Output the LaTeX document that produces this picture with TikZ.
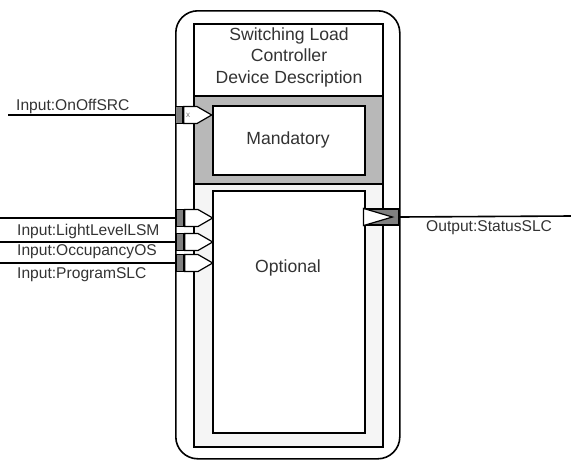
\documentclass[tikz,border=0pt]{standalone}
\usepackage{fontspec}
\setmainfont{Liberation Sans}
\usetikzlibrary{shapes,positioning}

\begin{document}
\begin{tikzpicture}[
        x=1pt, y=-1pt,
        frame/.style={
            draw,
            line width=1.6pt,
            anchor=north west,
            inner sep=0pt
        },
        lbl/.style={
            text=black!80,
            inner sep=0pt,
            font=\fontsize{15.6}{21}\selectfont
        },
        boxtxt/.style={
            text=black!80,
            inner sep=0pt,
            font=\fontsize{17.6}{21.5}\selectfont
        },
        tab/.style={
            draw,
            line width=1.2pt,
            fill=black!50,
            minimum width=7pt,
            minimum height=17pt,
            inner sep=0pt
        },
        inpin/.style={
            draw,
            line width=1.2pt,
            fill=white,
            signal,
            signal to=east,
            signal pointer angle=60,
            minimum width=28pt,
            minimum height=17pt,
            inner sep=0pt
        },
        wire/.style={draw, line width=1.6pt}
    ]
        \useasboundingbox (0,0) rectangle (571,459);

        % -- Ramki (Frames) --
        \node [frame, fill=white, rounded corners=22pt, minimum width=224pt, minimum height=448pt] (device) at (175,10) {};
        \node [frame, fill=white, minimum width=189pt, minimum height=72pt] (head) at (193,23) {};
        \node [frame, fill=black!28, minimum width=189pt, minimum height=88pt] (mandband) at (193,95) {};
        \node [frame, fill=black!4, minimum width=189pt, minimum height=263pt] (optband) at (193,183) {};
        \node [frame, fill=white, minimum width=152pt, minimum height=69pt] (mand) at (212,105) {};
        \node [frame, fill=white, minimum width=152pt, minimum height=242pt] (opt) at (212,190) {};

        % Teksty
        \node [boxtxt, align=center] (title) at (289,57) {Switching Load\\Controller\\Device Description};
        \node [boxtxt] (mandtxt) at (288,140) {Mandatory};
        \node [boxtxt] (opttxt) at (288,268) {Optional};

        % -- Piny wejściowe (Inputs) --
        \node [tab] (tabA) at (179,115) {};
        \node [tab] (tabB) at (180,218) {};
        \node [tab] (tabC) at (180,242) {};
        \node [tab] (tabD) at (180,263) {};

        \coordinate (inA) at (8,115);
        \coordinate (inB) at (0,218);
        \coordinate (inC) at (0,242);
        \coordinate (inD) at (0,263);

        \path [wire] (inA) -- (tabA.west);
        \path [wire] (inB) -- (tabB.west);
        \path [wire] (inC) -- (tabC.west);
        \path [wire] (inD) -- (tabD.west);

        \node [inpin, right=0pt of tabA] (pinA) {};
        \node [inpin, right=0pt of tabB] (pinB) {};
        \node [inpin, right=0pt of tabC] (pinC) {};
        \node [inpin, right=0pt of tabD] (pinD) {};
        \node [text=black!55, font=\fontsize{8}{8}\selectfont, inner sep=0pt] (xmark) at ([xshift=5pt]pinA.west) {x};

        \node [lbl, anchor=west] (lblA) at (16,106) {Input:OnOffSRC};
        \node [lbl, anchor=west] (lblB) at (17,231) {Input:LightLevelLSM};
        \node [lbl, anchor=west] (lblC) at (17,252) {Input:OccupancyOS};
        \node [lbl, anchor=west] (lblD) at (17,275) {Input:ProgramSLC};

        % -- Pin wyjściowy (Output) --
        \node [tab, minimum width=35pt, minimum height=16pt] (outpin) at (381.5,217) {};
        \draw [line width=1.2pt, fill=white] (outpin.north west) -- ([xshift=29pt]outpin.west) -- (outpin.south west) -- cycle;
        \coordinate (outend) at (571,216);
        \path [wire] (outpin.east) -- (outend);
        \node [lbl, anchor=west] (lblOut) at (426,228) {Output:StatusSLC};

    \end{tikzpicture}
\end{document}
